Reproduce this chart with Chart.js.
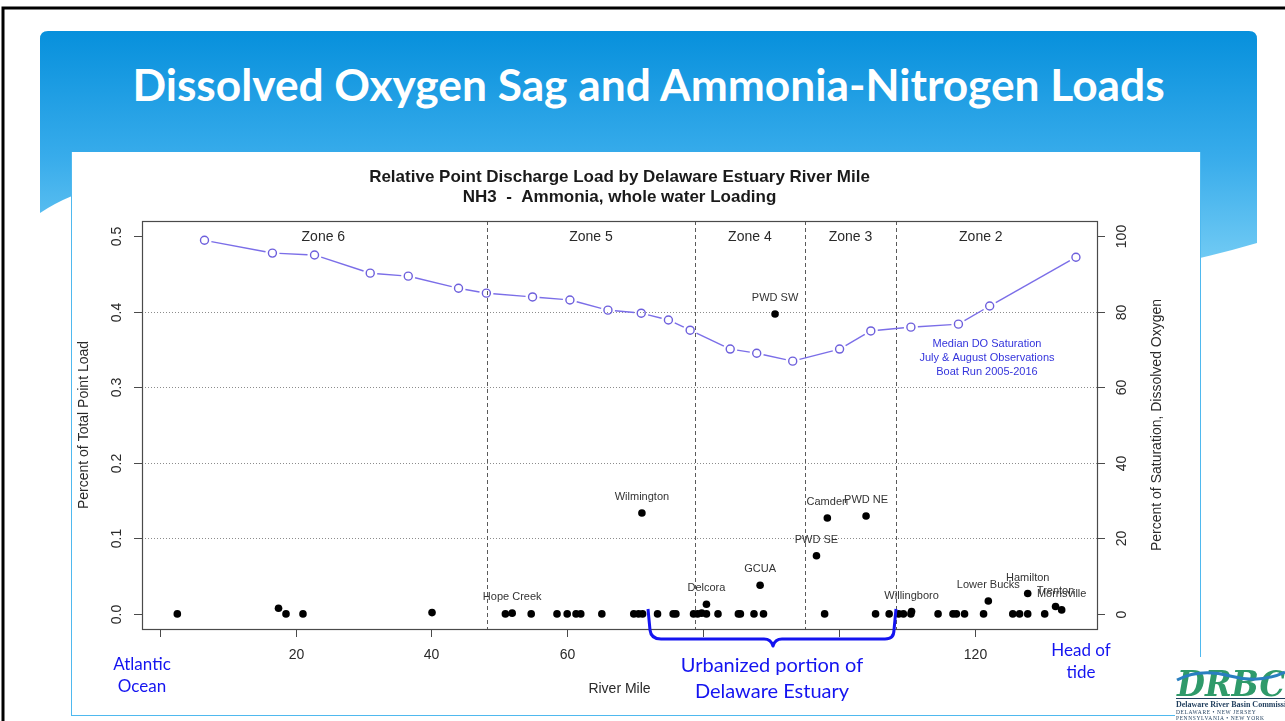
<!DOCTYPE html>
<html><head><meta charset="utf-8">
<script src="https://cdn.jsdelivr.net/npm/chart.js@4.4.1/dist/chart.umd.min.js"></script>
<style>
html,body{margin:0;padding:0;background:#fff}
body{width:1285px;height:721px;overflow:hidden;position:relative;font-family:Lato,"Open Sans",sans-serif}
#bg{position:absolute;left:0;top:0}
#title{position:absolute;left:40px;width:1217px;top:62px;text-align:center;color:#fff;font-weight:700;white-space:nowrap;line-height:1;font-family:Lato,sans-serif}
#panel{position:absolute;left:71px;top:152px;width:1128px;height:563px;background:#fff;border-left:1px solid #4fb9ef;border-right:1px solid #4fb9ef;border-bottom:1px solid #4fb9ef}
#cv{position:absolute;left:72px;top:152px}
.note{position:absolute;color:#1414f0;text-align:center;font-family:Lato,sans-serif;line-height:1.3}
#over{position:absolute;left:0;top:0;pointer-events:none}
</style></head><body>
<svg id="bg" width="1285" height="721">
 <defs><linearGradient id="g" x1="0" y1="31" x2="0" y2="262" gradientUnits="userSpaceOnUse">
  <stop offset="0" stop-color="#0790dc"/><stop offset="0.55" stop-color="#38aceb"/><stop offset="1" stop-color="#72cbf4"/></linearGradient></defs>
 <path d="M48,31 H1249 Q1257,31 1257,39 V243 Q1230,251 1200,258 C900,320 400,120 72,196 Q55,203 40,213 V39 Q40,31 48,31 Z" fill="url(#g)"/>
 <rect x="3" y="8" width="1300" height="730" fill="none" stroke="#000" stroke-width="3"/>
</svg>
<div id="title">Dissolved Oxygen Sag and Ammonia-Nitrogen Loads</div>
<div id="panel"></div>
<canvas id="cv" width="1128" height="564"></canvas>
<svg id="over" width="1285" height="721">
 <path d="M648,609 L650,630 Q651,639 661,639 L764,639 Q771,639 773,646 Q775,639 782,639 L885,639 Q894,639 894,630 L896,609" fill="none" stroke="#1414f0" stroke-width="3" stroke-linejoin="round"/>
 <g>
  <rect x="1175" y="657" width="110" height="64" fill="#fff"/>
  <text x="1177" y="696" font-family="DejaVu Serif" font-size="36" font-weight="bold" font-style="italic" fill="#2f9a6a" textLength="108" lengthAdjust="spacingAndGlyphs">DRBC</text>
  <path d="M1177,680 Q1200,668 1230,676 Q1260,684 1285,672" fill="none" stroke="#2a7fc0" stroke-width="3"/>
  <rect x="1176" y="698" width="109" height="1" fill="#1f3d5c"/>
  <text x="1176" y="707" font-family="Liberation Serif" font-size="8" font-weight="bold" fill="#1f3d5c">Delaware River Basin Commission</text>
  <text x="1176" y="714" font-family="Liberation Serif" font-size="5.5" fill="#1f3d5c" letter-spacing="0.6">DELAWARE  •  NEW JERSEY</text>
  <text x="1176" y="720" font-family="Liberation Serif" font-size="5.5" fill="#1f3d5c" letter-spacing="0.6">PENNSYLVANIA  •  NEW YORK</text>
 </g>
</svg>
<div class="note" style="left:92px;top:653px;width:100px;font-size:17px">Atlantic<br>Ocean</div>
<div class="note" style="left:632px;top:651px;width:280px;font-size:20px">Urbanized portion of<br>Delaware Estuary</div>
<div class="note" style="left:1031px;top:639px;width:100px;font-size:17px">Head of<br>tide</div>
<script>
// ---------- data ----------
const xTicks = [0, 20, 40, 60, 80, 100, 120];
const xTickLabels = ['', '20', '40', '60', '', '', '120'];
const loadTicks = [0.0, 0.1, 0.2, 0.3, 0.4, 0.5];
const loadTickLabels = ['0.0', '0.1', '0.2', '0.3', '0.4', '0.5'];
const doTicks = [0, 20, 40, 60, 80, 100];
const doTickLabels = ['0', '20', '40', '60', '80', '100'];
const gridValues = [0.1, 0.2, 0.3, 0.4];

const zoneNames = ['Zone 6', 'Zone 5', 'Zone 4', 'Zone 3', 'Zone 2'];
const zoneBounds = [0, 48.2, 78.8, 95.0, 108.4, 133.4];

const doMiles = [6.6, 16.6, 22.8, 31.0, 36.6, 44.0, 48.1, 54.9, 60.4, 66.0, 70.9, 74.9, 78.1, 84.0, 87.9, 93.2, 100.1, 104.7, 110.6, 117.6, 122.2, 134.9];
const doSaturation = [98.9, 95.5, 95.0, 90.2, 89.4, 86.2, 84.9, 83.9, 83.1, 80.4, 79.6, 77.8, 75.1, 70.1, 69.0, 66.9, 70.1, 74.9, 75.9, 76.7, 81.5, 94.4];

const siteNames = ['Hope Creek', 'Wilmington', 'Delcora', 'GCUA', 'PWD SW', 'PWD SE', 'Camden', 'PWD NE', 'Willingboro', 'Lower Bucks', 'Hamilton', 'Trenton', 'Morrisville'];
const siteMiles = [51.9, 71.0, 80.5, 88.4, 90.6, 96.7, 98.3, 104.0, 110.7, 122.0, 127.8, 131.9, 132.8];
const siteLoads = [0.001, 0.1336, 0.0128, 0.038, 0.397, 0.077, 0.127, 0.1296, 0.003, 0.017, 0.027, 0.0097, 0.0053];

const otherMiles = [2.6, 17.5, 18.6, 21.1, 40.1, 50.9, 54.7, 58.5, 60.0, 61.3, 62.0, 65.1, 69.8, 70.5, 71.1, 73.3, 75.6, 76.0, 78.6, 79.2, 79.8, 80.5, 82.2, 85.2, 85.5, 87.5, 88.9, 97.9, 105.4, 107.4, 108.8, 109.5, 110.6, 114.6, 116.8, 117.3, 118.5, 121.3, 125.6, 126.6, 127.8, 130.3];
const otherLoads = [0, 0.0075, 0, 0, 0.0017, 0, 0, 0, 0, 0, 0, 0, 0, 0, 0, 0, 0, 0, 0, 0, 0.001, 0, 0, 0, 0, 0, 0, 0, 0, 0, 0, 0, 0, 0, 0, 0, 0, 0, 0, 0, 0, 0];

const chartTitle1 = 'Relative Point Discharge Load by Delaware Estuary River Mile';
const chartTitle2 = 'NH3  -  Ammonia, whole water Loading';
const xTitle = 'River Mile';
const yTitle = 'Percent of Total Point Load';
const y2Title = 'Percent of Saturation, Dissolved Oxygen';
const doNote = ['Median DO Saturation', 'July & August Observations', 'Boat Run 2005-2016'];
const doNoteAt = [121.8, 0.339];

// ---------- title fit ----------
(function(){
  const t = document.getElementById('title');
  const c = document.createElement('canvas').getContext('2d');
  c.font = '700 40px Lato';
  const w = c.measureText(t.textContent).width;
  const fs = 40 * 1034 / w;
  t.style.fontSize = fs.toFixed(2) + 'px';
})();

// ---------- chart ----------
const F = '"Liberation Sans", Arial, sans-serif';
const TXT = '#2a2a2a';
const loadPoints = otherMiles.map((m, i) => ({x: m, y: otherLoads[i]}))
  .concat(siteMiles.map((m, i) => ({x: m, y: siteLoads[i]})));
const doPoints = doMiles.map((m, i) => ({x: m, y: doSaturation[i]}));

const overlay = {
  id: 'overlay',
  beforeDatasetsDraw(chart) {
    const {ctx, chartArea: a, scales: {x, y}} = chart;
    ctx.save();
    ctx.lineWidth = 1;
    ctx.strokeStyle = '#8c8c8c';
    ctx.setLineDash([1, 2]);
    gridValues.forEach(v => {
      const py = Math.round(y.getPixelForValue(v)) + 0.5;
      ctx.beginPath(); ctx.moveTo(a.left, py); ctx.lineTo(a.right, py); ctx.stroke();
    });
    ctx.strokeStyle = '#5a5a5a';
    ctx.setLineDash([4, 3]);
    zoneBounds.slice(1, -1).forEach(m => {
      const px = Math.round(x.getPixelForValue(m)) + 0.5;
      ctx.beginPath(); ctx.moveTo(px, a.top); ctx.lineTo(px, a.bottom); ctx.stroke();
    });
    ctx.setLineDash([]);
    // DO connecting line (type "b" style with gaps)
    const pts = chart.getDatasetMeta(0).data;
    ctx.strokeStyle = '#7b6ee8';
    ctx.lineWidth = 1.4;
    for (let i = 0; i < pts.length - 1; i++) {
      const p0 = pts[i], p1 = pts[i + 1];
      const dx = p1.x - p0.x, dy = p1.y - p0.y, len = Math.hypot(dx, dy), g = 7;
      if (len <= 2 * g) continue;
      const ux = dx / len, uy = dy / len;
      ctx.beginPath();
      ctx.moveTo(p0.x + ux * g, p0.y + uy * g);
      ctx.lineTo(p1.x - ux * g, p1.y - uy * g);
      ctx.stroke();
    }
    ctx.restore();
  },
  afterDatasetsDraw(chart) {
    const {ctx, chartArea: a, scales: {x, y, y2}} = chart;
    ctx.save();
    // box
    ctx.strokeStyle = '#4a4a4a'; ctx.lineWidth = 1.2;
    ctx.strokeRect(Math.round(a.left) + 0.5, Math.round(a.top) + 0.5, Math.round(a.right - a.left), Math.round(a.bottom - a.top));
    ctx.lineWidth = 1;
    ctx.fillStyle = TXT;
    ctx.font = '14px ' + F;
    // x ticks
    xTicks.forEach((v, i) => {
      const px = Math.round(x.getPixelForValue(v)) + 0.5;
      ctx.beginPath(); ctx.moveTo(px, a.bottom); ctx.lineTo(px, a.bottom + 8); ctx.stroke();
      if (xTickLabels[i]) { ctx.textAlign = 'center'; ctx.textBaseline = 'middle'; ctx.fillText(xTickLabels[i], px, a.bottom + 26); }
    });
    // left ticks
    loadTicks.forEach((v, i) => {
      const py = Math.round(y.getPixelForValue(v)) + 0.5;
      ctx.beginPath(); ctx.moveTo(a.left, py); ctx.lineTo(a.left - 8, py); ctx.stroke();
      ctx.save(); ctx.translate(a.left - 25, py); ctx.rotate(-Math.PI / 2);
      ctx.textAlign = 'center'; ctx.textBaseline = 'middle'; ctx.fillText(loadTickLabels[i], 0, 0); ctx.restore();
    });
    // right ticks
    doTicks.forEach((v, i) => {
      const py = Math.round(y2.getPixelForValue(v)) + 0.5;
      ctx.beginPath(); ctx.moveTo(a.right, py); ctx.lineTo(a.right + 8, py); ctx.stroke();
      ctx.save(); ctx.translate(a.right + 25, py); ctx.rotate(-Math.PI / 2);
      ctx.textAlign = 'center'; ctx.textBaseline = 'middle'; ctx.fillText(doTickLabels[i], 0, 0); ctx.restore();
    });
    // axis titles
    const midY = (a.top + a.bottom) / 2, midX = (a.left + a.right) / 2;
    ctx.textAlign = 'center'; ctx.textBaseline = 'middle';
    ctx.fillText(xTitle, midX, a.bottom + 60);
    ctx.save(); ctx.translate(a.left - 58, midY); ctx.rotate(-Math.PI / 2); ctx.fillText(yTitle, 0, 0); ctx.restore();
    ctx.save(); ctx.translate(a.right + 60, midY); ctx.rotate(-Math.PI / 2); ctx.fillText(y2Title, 0, 0); ctx.restore();
    // chart titles
    ctx.font = 'bold 17px ' + F;
    ctx.fillStyle = '#1a1a1a';
    ctx.fillText(chartTitle1, midX, a.top - 44);
    ctx.fillText(chartTitle2, midX, a.top - 24);
    // zone labels
    ctx.font = '14px ' + F; ctx.fillStyle = TXT;
    zoneNames.forEach((n, i) => {
      const m = (zoneBounds[i] + zoneBounds[i + 1]) / 2;
      ctx.fillText(n, x.getPixelForValue(m), y.getPixelForValue(0.5) + 1);
    });
    // site labels
    ctx.font = '11px ' + F; ctx.fillStyle = '#333';
    siteNames.forEach((n, i) => {
      ctx.fillText(n, x.getPixelForValue(siteMiles[i]), y.getPixelForValue(siteLoads[i]) - 16);
    });
    // DO note
    ctx.fillStyle = '#3434dc';
    ctx.font = '11px ' + F;
    const nx = x.getPixelForValue(doNoteAt[0]), ny = y.getPixelForValue(doNoteAt[1]);
    doNote.forEach((s, i) => ctx.fillText(s, nx, ny + (i - 1) * 14));
    ctx.restore();
  }
};

new Chart(document.getElementById('cv'), {
  type: 'scatter',
  data: {
    datasets: [
      {label: 'DO', data: doPoints, yAxisID: 'y2', showLine: false, pointRadius: 4, pointBorderWidth: 1.4,
       pointBorderColor: '#6d5fdc', pointBackgroundColor: 'rgba(255,255,255,0)'},
      {label: 'Load', data: loadPoints, yAxisID: 'y', pointRadius: 3.8, pointBorderWidth: 0,
       pointBackgroundColor: '#000', pointBorderColor: '#000'}
    ]
  },
  options: {
    responsive: false, animation: false, events: [],
    devicePixelRatio: 1,
    layout: {padding: {top: 69, left: 0, right: 0, bottom: 0}, autoPadding: false},
    plugins: {legend: {display: false}, tooltip: {enabled: false}, title: {display: false}},
    scales: {
      x: {type: 'linear', min: -2.6, max: 138.0, ticks: {display: false}, grid: {display: false}, border: {display: false},
          afterFit(s) { s.height = 87; }},
      y: {type: 'linear', position: 'left', min: -0.02, max: 0.52, ticks: {display: false}, grid: {display: false}, border: {display: false},
          afterFit(s) { s.width = 70; }},
      y2: {type: 'linear', position: 'right', min: -4, max: 104, ticks: {display: false}, grid: {display: false}, border: {display: false},
          afterFit(s) { s.width = 103; }}
    }
  },
  plugins: [overlay]
});
</script>
</body></html>
